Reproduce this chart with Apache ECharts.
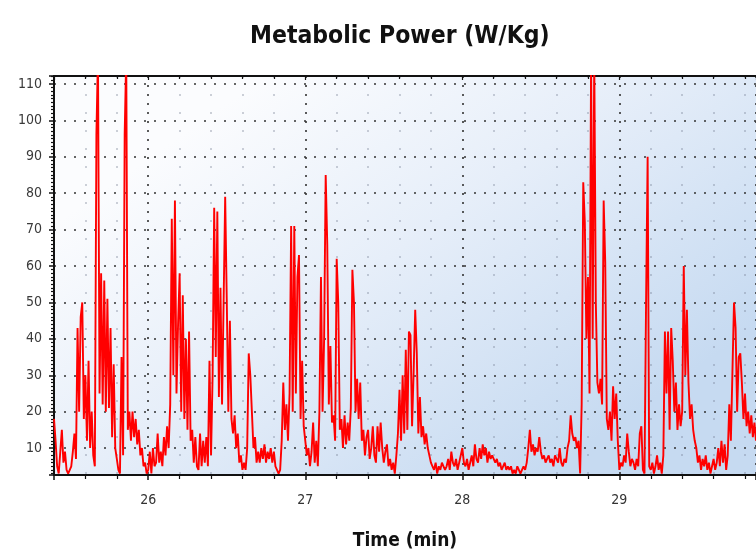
<!DOCTYPE html>
<html>
<head>
<meta charset="utf-8">
<script src="https://cdn.jsdelivr.net/npm/echarts@6/dist/echarts.min.js"></script>
<style>
    html, body { margin: 0; padding: 0; background: #ffffff; }
    #chart { width: 756px; height: 556px; }
</style>
</head>
<body>
<div id="chart"></div>
<script>
// sampled every 0.01 min starting at 25.40 min
var sampleStart = 25.40;
var sampleStep = 0.01;
var xTickLabels = [26, 27, 28, 29];
var yTickLabels = [10, 20, 30, 40, 50, 60, 70, 80, 90, 100, 110];

var metabolicPower = [
    18, 12, 5, 3, 9, 15, 6, 9, 4, 3,
    3, 5, 9, 14, 7, 43, 20, 46, 50, 18,
    30, 12, 34, 10, 20, 8, 5, 96, 118, 25,
    58, 22, 56, 20, 51, 21, 43, 13, 33, 10,
    7, 4, 3, 35, 8, 96, 118, 15, 20, 12,
    20, 13, 18, 11, 15, 8, 10, 5, 6, 3,
    4, 9, 3, 10, 5, 6, 14, 6, 9, 5,
    13, 8, 16, 10, 22, 73, 30, 78, 25, 44,
    58, 20, 52, 18, 40, 15, 42, 12, 15, 6,
    13, 5, 4, 14, 5, 12, 6, 13, 5, 34,
    8, 30, 76, 35, 75, 24, 54, 22, 50, 79,
    51, 20, 45, 18, 14, 19, 10, 14, 6, 8,
    4, 6, 4, 10, 36, 30, 20, 10, 13, 6,
    9, 6, 10, 7, 11, 6, 9, 7, 10, 6,
    9, 5, 4, 3, 4, 12, 28, 15, 22, 12,
    25, 71, 20, 71, 25, 57, 63, 18, 34, 16,
    16, 8, 10, 5, 9, 17, 6, 12, 5, 20,
    57, 20, 40, 85, 66, 22, 38, 17, 19, 12,
    62, 50, 15, 18, 10, 19, 11, 17, 12, 21,
    59, 50, 20, 29, 18, 28, 12, 15, 8, 13,
    15, 7, 10, 16, 8, 6, 16, 9, 17, 10,
    6, 9, 11, 5, 7, 4, 6, 3, 8, 14,
    26, 12, 30, 14, 37, 15, 42, 41, 16, 31,
    48, 36, 14, 24, 13, 16, 11, 14, 10, 8,
    6, 5, 4, 6, 3, 5, 4, 6, 5, 4,
    5, 7, 4, 9, 6, 5, 7, 4, 6, 8,
    10, 6, 5, 7, 4, 6, 8, 5, 11, 7,
    6, 10, 7, 11, 8, 10, 6, 9, 7, 8,
    8, 6, 7, 5, 6, 4, 5, 6, 4, 5,
    4, 5, 3, 4, 3, 5, 4, 3, 4, 5,
    4, 6, 10, 15, 9, 11, 8, 10, 9, 13,
    9, 7, 8, 6, 7, 8, 6, 7, 5, 8,
    7, 6, 10, 6, 5, 7, 6, 10, 12, 19,
    14, 12, 13, 10, 12, 3, 22, 83, 72, 40,
    57, 25, 118, 40, 118, 50, 28, 25, 29, 22,
    78, 61, 18, 15, 20, 12, 27, 18, 25, 12,
    4, 6, 5, 8, 6, 14, 9, 5, 7, 6,
    4, 7, 5, 14, 16, 4, 3, 50, 90, 5,
    4, 6, 3, 5, 8, 4, 6, 3, 8, 42,
    25, 42, 15, 43, 34, 20, 28, 15, 22, 16,
    20, 60, 30, 48, 28, 18, 22, 15, 12, 10,
    6, 8, 4, 7, 5, 8, 4, 6, 3, 5,
    7, 4, 6, 10, 5, 12, 6, 11, 4, 8,
    22, 12, 31, 50, 43, 20, 35, 36, 28, 18,
    25, 16, 20, 14, 19, 13, 17, 12
];

var narrow = "'Liberation Sans Narrow', 'DejaVu Sans Condensed', 'Liberation Sans', sans-serif";

function buildSeries(values) {
    var out = [];
    for (var i = 0, l = values.length; i < l; i++) {
        out.push([+(sampleStart + i * sampleStep).toFixed(2), values[i]]);
    }
    return out;
}

function pickLabel(list) {
    return function (v) {
        for (var i = 0; i < list.length; i++) {
            if (Math.abs(v - list[i]) < 1e-6) return String(list[i]);
        }
        return '';
    };
}

var chart = echarts.init(document.getElementById('chart'));

var option = {
    animation: false,
    title: {
        text: 'Metabolic Power (W/Kg)',
        left: 245,
        top: 19,
        textStyle: {
            fontFamily: narrow,
            fontSize: 24.5,
            fontWeight: 'bold',
            color: '#111'
        }
    },
    grid: {
        left: 54,
        right: 0,
        top: 76,
        bottom: 81,
        show: true,
        borderWidth: 0,
        backgroundColor: {
            type: 'linear',
            x: 0.3, y: 0, x2: 0.7, y2: 1,
            colorStops: [
                {offset: 0, color: '#fbfcfe'},
                {offset: 0.45, color: '#e6eef9'},
                {offset: 1, color: '#c6daf1'}
            ]
        }
    },
    xAxis: [
        {
            type: 'value',
            min: 25.4,
            max: 29.87,
            splitNumber: 4,
            name: 'Time (min)',
            nameLocation: 'middle',
            nameGap: 57,
            nameTextStyle: {
                fontFamily: narrow,
                fontSize: 19,
                fontWeight: 'bold',
                color: '#111'
            },
            axisLine: {show: true, lineStyle: {color: '#111', width: 2}},
            axisTick: {show: true, length: 5, lineStyle: {color: '#111', width: 1.5}},
            minorTick: {show: true, splitNumber: 5, length: 4, lineStyle: {color: '#111', width: 1.2}},
            axisLabel: {
                margin: 18,
                fontFamily: narrow,
                fontSize: 14,
                color: '#333',
                showMinLabel: false,
                showMaxLabel: false,
                formatter: pickLabel(xTickLabels)
            },
            splitLine: {show: true, lineStyle: {color: '#333', width: 1.6, type: [2, 7]}},
            minorSplitLine: {show: true, lineStyle: {color: 'rgba(110,120,140,0.45)', width: 1.5, type: [2, 16]}}
        },
        {
            type: 'value',
            position: 'top',
            min: 25.4,
            max: 29.87,
            splitNumber: 4,
            axisLine: {show: true, lineStyle: {color: '#111', width: 2}},
            axisTick: {show: true, inside: true, length: 4, lineStyle: {color: '#111', width: 1.2}},
            minorTick: {show: true, splitNumber: 5, length: 3, lineStyle: {color: '#111', width: 1.2}},
            axisLabel: {show: false},
            splitLine: {show: false}
        }
    ],
    yAxis: {
        type: 'value',
        min: 2.6,
        max: 112.2,
        splitNumber: 11,
        axisLine: {show: true, lineStyle: {color: '#111', width: 2}},
        axisTick: {show: true, length: 5, lineStyle: {color: '#111', width: 1.5}},
        minorTick: {show: true, splitNumber: 10, length: 3, lineStyle: {color: '#111', width: 1.2}},
        axisLabel: {
            margin: 12,
            fontFamily: narrow,
            fontSize: 14,
            color: '#3a3a3a',
            showMinLabel: false,
            showMaxLabel: false,
            formatter: pickLabel(yTickLabels)
        },
        splitLine: {show: true, lineStyle: {color: '#333', width: 1.6, type: [2, 8]}}
    },
    series: [
        {
            name: 'Metabolic Power',
            type: 'line',
            xAxisIndex: 0,
            data: buildSeries(metabolicPower),
            showSymbol: false,
            symbol: 'none',
            clip: true,
            lineStyle: {color: '#ff0000', width: 1.9},
            itemStyle: {color: '#ff0000'}
        }
    ]
};
chart.setOption(option);
</script>
</body>
</html>
